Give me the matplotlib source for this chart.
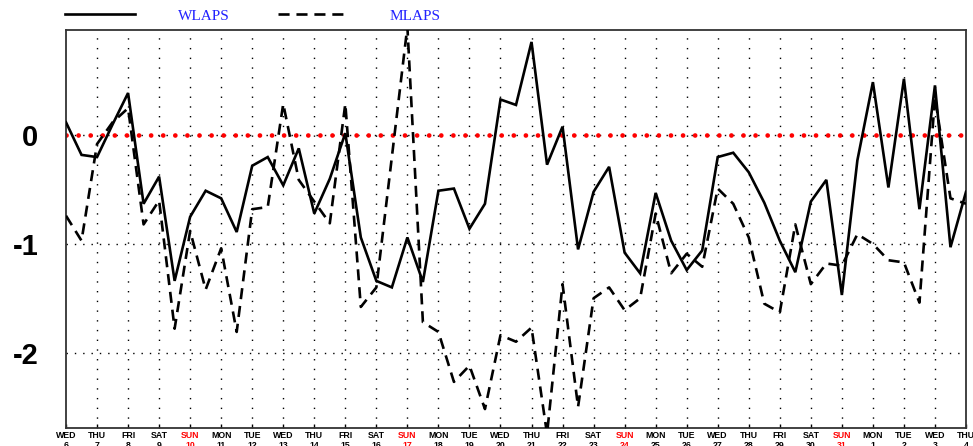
import matplotlib
matplotlib.use("Agg")
import matplotlib.pyplot as plt
from matplotlib.lines import Line2D
import numpy as np

# ---- data ----
day_names = ["WED", "THU", "FRI", "SAT", "SUN", "MON", "TUE"]
day_numbers = list(range(6, 32)) + [1, 2, 3, 4]
wlaps = [0.12, -0.18, -0.20, 0.10, 0.39, -0.63, -0.38, -1.34, -0.75, -0.51,
         -0.58, -0.89, -0.28, -0.20, -0.46, -0.12, -0.72, -0.40, 0.02, -0.94,
         -1.34, -1.40, -0.94, -1.35, -0.51, -0.49, -0.86, -0.63, 0.33, 0.28,
         0.86, -0.27, 0.08, -1.05, -0.52, -0.29, -1.08, -1.27, -0.53, -0.97,
         -1.24, -1.06, -0.20, -0.16, -0.34, -0.62, -0.97, -1.26, -0.61, -0.41,
         -1.47, -0.23, 0.49, -0.48, 0.52, -0.68, 0.46, -1.03, -0.52]
mlaps = [-0.74, -0.97, -0.08, 0.12, 0.25, -0.82, -0.60, -1.78, -0.88, -1.42,
         -1.04, -1.81, -0.68, -0.66, 0.29, -0.41, -0.61, -0.81, 0.29, -1.58,
         -1.40, -0.20, 1.00, -1.72, -1.81, -2.27, -2.12, -2.52, -1.84, -1.90,
         -1.77, -2.75, -1.37, -2.50, -1.50, -1.40, -1.61, -1.50, -0.72, -1.27,
         -1.09, -1.21, -0.49, -0.63, -0.94, -1.55, -1.63, -0.82, -1.37, -1.18,
         -1.20, -0.91, -1.00, -1.15, -1.17, -1.54, 0.35, -0.58, -0.63]
y_ticks = [0, -1, -2]
step_days = 0.5

t = np.arange(len(wlaps)) * step_days
n_days = len(day_numbers)

fig = plt.figure(figsize=(9.73, 4.46), dpi=100)
ax = fig.add_axes([66/973, 1-427.5/446, (966-66)/973, (427.5-30)/446])

ax.set_xlim(0, n_days - 1)
ax.set_ylim(-2.69, 0.97)

# grid
for d in range(1, n_days - 1):
    ax.axvline(d, color="black", lw=1.0, ls=(0, (1, 6)), zorder=1)
for yv in y_ticks:
    ax.axhline(yv, color="black", lw=1.0, ls=(0, (1, 5)), zorder=1)

# zero reference line (red dots)
ax.axhline(0, color="#ff0000", lw=3.4, ls=(0, (0.01, 2.55)),
           dash_capstyle="round", zorder=2)

ax.plot(t, wlaps, color="black", lw=1.9, zorder=3, solid_joinstyle="miter")
ax.plot(t, mlaps, color="black", lw=1.9, ls=(0, (4.2, 2.6)), zorder=3)

# ticks
ax.set_yticks(y_ticks)
ax.set_yticklabels([str(v) for v in y_ticks], fontsize=21, fontweight="bold",
                   family="Liberation Sans")
ax.tick_params(axis="y", length=0, pad=20)

ax.set_xticks(range(n_days))
labels = [f"{day_names[i % 7]}\n{day_numbers[i]}" for i in range(n_days)]
ax.set_xticklabels(labels, fontsize=6.3, fontweight="bold",
                   family="Liberation Sans", linespacing=1.15)
ax.tick_params(axis="x", direction="in", length=3, pad=2.5, width=1)
for i, lab in enumerate(ax.get_xticklabels()):
    if day_names[i % 7] == "SUN":
        lab.set_color("#ff0000")

for s in ax.spines.values():
    s.set_linewidth(1.3)
    s.set_color("#333333")

# legend across the top
fig.add_artist(Line2D([65/973, 135/973], [1-14/446, 1-14/446], color="black",
                      lw=1.9, transform=fig.transFigure))
fig.add_artist(Line2D([278/973, 348/973], [1-14/446, 1-14/446], color="black",
                      lw=1.9, ls=(0, (4.2, 2.6)), transform=fig.transFigure))
fig.text(204/973, 1-17/446, "WLAPS", color="#2222ff", fontsize=11,
         family="Liberation Serif", ha="center", va="center")
fig.text(415/973, 1-17/446, "MLAPS", color="#2222ff", fontsize=11,
         family="Liberation Serif", ha="center", va="center")

fig.savefig("out.png", dpi=100)
